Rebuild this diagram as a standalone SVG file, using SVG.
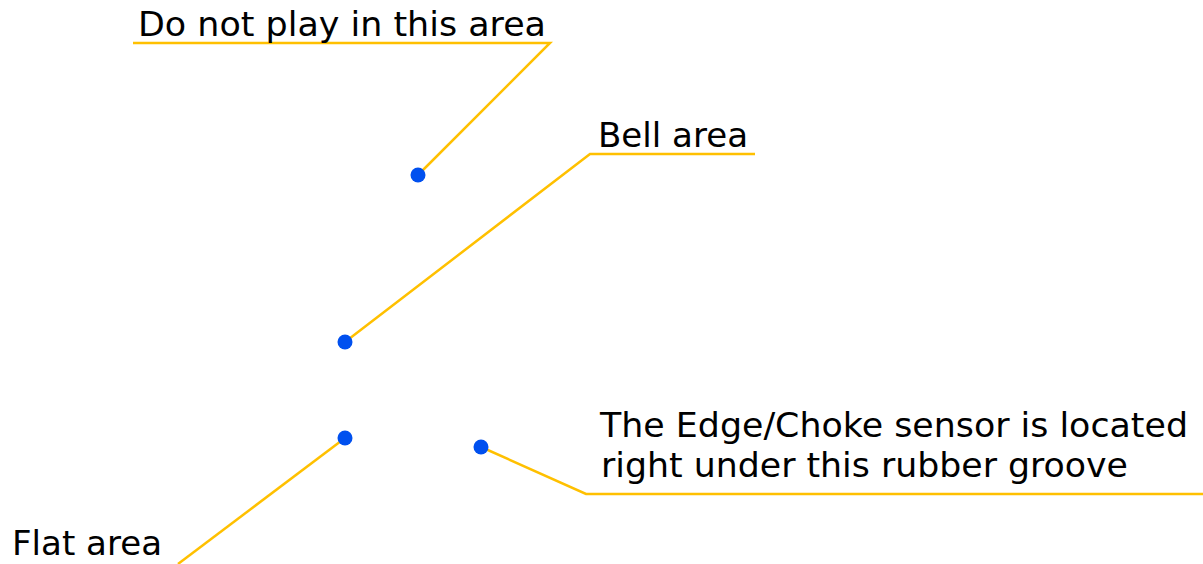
<svg xmlns="http://www.w3.org/2000/svg" width="1203" height="564" viewBox="0 0 1203 564">
<style>
.lbl{font-family:"DejaVu Sans",Verdana,sans-serif;font-size:34px;fill:#000}
.ln{fill:none;stroke:#FFC000;stroke-width:2.5}
.dot{fill:#0050EF}
</style>
<rect width="1203" height="564" fill="#fff"/>
<g id="connectors">
<polyline class="ln" points="133,43 550,43 418,175"/>
<polyline class="ln" points="755,154 590,154 345,342"/>
<polyline class="ln" points="345,438 178,564"/>
<polyline class="ln" points="481,447 586,494 1203,494"/>
</g>
<g id="do-not-play">
<circle class="dot" cx="418" cy="175" r="7.5"/>
<text class="lbl" x="138" y="36" textLength="408" lengthAdjust="spacingAndGlyphs">Do not play in this area</text>
</g>
<g id="bell-area">
<circle class="dot" cx="345" cy="342" r="7.5"/>
<text class="lbl" x="598" y="147" textLength="150" lengthAdjust="spacingAndGlyphs">Bell area</text>
</g>
<g id="flat-area">
<circle class="dot" cx="345" cy="438" r="7.5"/>
<text class="lbl" x="12" y="555" textLength="150" lengthAdjust="spacingAndGlyphs">Flat area</text>
</g>
<g id="edge-choke">
<circle class="dot" cx="481" cy="447" r="7.5"/>
<text class="lbl" x="600" y="437" textLength="588" lengthAdjust="spacingAndGlyphs">The Edge/Choke sensor is located</text>
<text class="lbl" x="601" y="477" textLength="527" lengthAdjust="spacingAndGlyphs">right under this rubber groove</text>
</g>
</svg>
